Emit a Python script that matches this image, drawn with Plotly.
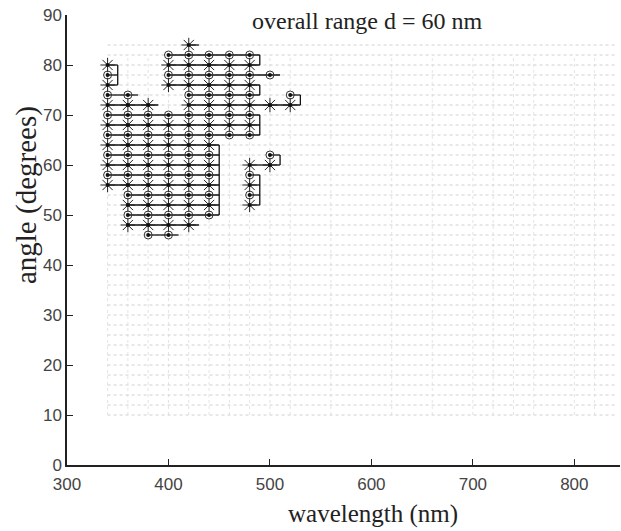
import plotly.graph_objects as go

# ---- data ----
wavelengths = [340, 360, 380, 400, 420, 440, 460, 480, 500, 520]
angle_ranges = [
    [(56, 80)],
    [(48, 74)],
    [(46, 72)],
    [(76, 82), (46, 70)],
    [(48, 84)],
    [(50, 82)],
    [(66, 82)],
    [(66, 82), (52, 60)],
    [(78, 78), (72, 72), (60, 62)],
    [(72, 74)],
]
grid_angles = list(range(10, 86, 2))
grid_wavelengths = [340, 360, 380, 400, 420, 440, 460, 480, 500, 520,
                    560, 620, 660, 700, 720, 740, 760, 800, 820]
x_ticks = [300, 400, 500, 600, 700, 800]
y_ticks = [0, 10, 20, 30, 40, 50, 60, 70, 80, 90]
title_text = "overall range d = 60 nm"
x_title = "wavelength (nm)"
y_title = "angle (degrees)"

# ---- expand to points ----
pts = {}
for wl, ranges in zip(wavelengths, angle_ranges):
    for lo, hi in ranges:
        for a in range(lo, hi + 1, 2):
            pts.setdefault(a, []).append(wl)

fig = go.Figure()

# faint dotted mesh
hx, hy = [], []
for a in grid_angles:
    hx += [340, 840, None]
    hy += [a, a, None]
vx, vy = [], []
for w in grid_wavelengths:
    vx += [w, w, None]
    vy += [10, 82, None]
fig.add_trace(go.Scatter(x=hx, y=hy, mode="lines", hoverinfo="skip",
                         line=dict(color="#c4c4c4", width=0.8, dash="dot")))
fig.add_trace(go.Scatter(x=vx, y=vy, mode="lines", hoverinfo="skip",
                         line=dict(color="#d8d8d8", width=0.7, dash="dot")))

# black row lines forming the boxes
step = 20
half = 10
segs = {}
lx, ly = [], []
for a in sorted(pts):
    ws = sorted(set(pts[a]))
    groups = []
    start = ws[0]
    prev = ws[0]
    for w in ws[1:]:
        if w - prev > step:
            groups.append((start, prev))
            start = w
        prev = w
    groups.append((start, prev))
    segs[a] = groups
    for g0, g1 in groups:
        lx += [g0, g1 + half, None]
        ly += [a, a, None]
for a in sorted(segs):
    if a - 2 in segs:
        ends_below = {g1 for _, g1 in segs[a - 2]}
        for _, g1 in segs[a]:
            if g1 in ends_below:
                lx += [g1 + half, g1 + half, None]
                ly += [a, a - 2, None]
fig.add_trace(go.Scatter(x=lx, y=ly, mode="lines", hoverinfo="skip",
                         line=dict(color="#111", width=1.3)))

# markers
ax_, ay_, cx_, cy_, dx_, dy_ = [], [], [], [], [], []
for a, ws in pts.items():
    for w in ws:
        dx_.append(w); dy_.append(a)
        if (a // 2) % 2 == 0:
            ax_.append(w); ay_.append(a)
        else:
            cx_.append(w); cy_.append(a)
fig.add_trace(go.Scatter(x=ax_, y=ay_, mode="markers", hoverinfo="skip",
                         marker=dict(symbol="asterisk-open", size=12, color="#222",
                                     line=dict(color="#222", width=1))))
fig.add_trace(go.Scatter(x=cx_, y=cy_, mode="markers", hoverinfo="skip",
                         marker=dict(symbol="circle-open", size=8, color="#333",
                                     line=dict(color="#333", width=1))))
fig.add_trace(go.Scatter(x=dx_, y=dy_, mode="markers", hoverinfo="skip",
                         marker=dict(symbol="circle", size=4, color="#111")))

axis_common = dict(showgrid=False, zeroline=False, showline=True, automargin=False,
                   linecolor="#222", linewidth=1.5, ticks="inside",
                   ticklen=6, tickcolor="#222",
                   tickfont=dict(family="Liberation Sans", size=17, color="#444"))
fig.update_layout(
    width=621, height=531,
    margin=dict(l=67, r=1, t=15, b=66),
    plot_bgcolor="white", paper_bgcolor="white",
    showlegend=False,
    xaxis=dict(range=[300, 845], tickvals=x_ticks, ticklabelstandoff=3, **axis_common),
    yaxis=dict(range=[0, 90], tickvals=y_ticks, **axis_common),
    annotations=[
        dict(x=596, y=88.8, xref="x", yref="y", text=title_text, showarrow=False,
             font=dict(family="Liberation Serif", size=24, color="#222")),
        dict(x=0.553, y=-0.108, xref="paper", yref="paper", text=x_title,
             showarrow=False, yanchor="middle",
             font=dict(family="Liberation Serif", size=25, color="#222")),
        dict(x=-0.074, y=0.60, xref="paper", yref="paper", text=y_title,
             showarrow=False, textangle=-90, xanchor="center", yanchor="middle",
             font=dict(family="Liberation Serif", size=29, color="#222")),
    ],
)
fig.write_html(
    "out.html",
    config={"displayModeBar": False},
    post_script="document.body.style.margin='0';document.body.style.overflow='hidden';",
)
